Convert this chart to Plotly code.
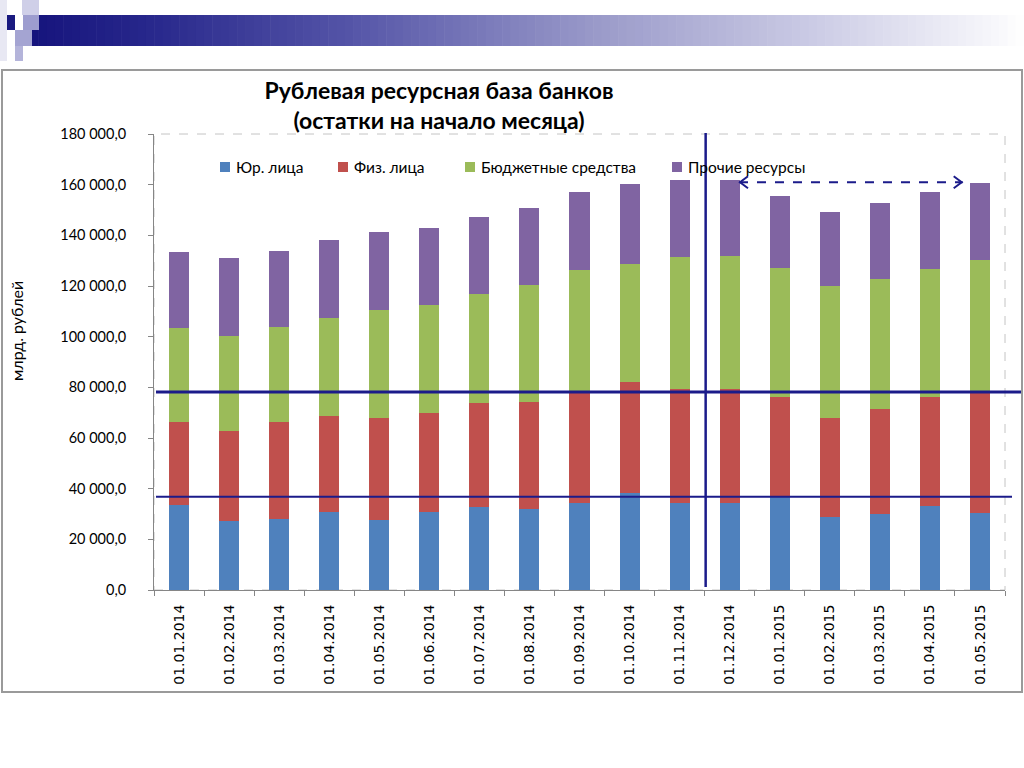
import plotly.graph_objects as go

# ---------------- data ----------------
dates = ["01.01.2014", "01.02.2014", "01.03.2014", "01.04.2014", "01.05.2014",
         "01.06.2014", "01.07.2014", "01.08.2014", "01.09.2014", "01.10.2014",
         "01.11.2014", "01.12.2014", "01.01.2015", "01.02.2015", "01.03.2015",
         "01.04.2015", "01.05.2015"]

legal_entities = [33500, 27200, 28000, 30700, 27800, 30700, 32800, 32000, 34300,
                  38300, 34300, 34300, 36800, 28700, 30100, 33300, 30500]
individuals = [32700, 35700, 38200, 37900, 40200, 39200, 41000, 42200, 44300,
               43800, 44900, 44900, 39300, 39300, 41200, 42800, 48200]
budget_funds = [37200, 37500, 37500, 38800, 42500, 42600, 43100, 46200, 47700,
                46600, 52300, 52700, 51000, 52100, 51600, 50600, 51700]
other_resources = [29900, 30700, 30100, 30800, 30800, 30400, 30400, 30400, 30800,
                   31600, 30400, 30000, 28600, 29000, 30000, 30400, 30400]

series_names = ["Юр. лица", "Физ. лица", "Бюджетные средства", "Прочие ресурсы"]
series_colors = ["#4F81BD", "#C0504D", "#9BBB59", "#8064A2"]

y_tick_vals = [0, 20000, 40000, 60000, 80000, 100000, 120000, 140000, 160000, 180000]
y_tick_text = ["0,0", "20 000,0", "40 000,0", "60 000,0", "80 000,0", "100 000,0",
               "120 000,0", "140 000,0", "160 000,0", "180 000,0"]

# ---------------- layout geometry ----------------
FW, FH = 1024, 768
L, R, T, B = 154, 1005, 134, 590
PW, PH = R - L, B - T


def px(x):
    return (x - L) / PW


def py(y):
    return (B - y) / PH


fig = go.Figure()
for name, vals, col in zip(series_names,
                           [legal_entities, individuals, budget_funds, other_resources],
                           series_colors):
    fig.add_trace(go.Bar(x=dates, y=vals, name=name, marker_color=col,
                         marker_line_width=0, showlegend=False))

shapes = []
annotations = []

# outer frame
shapes.append(dict(type="rect", xref="paper", yref="paper",
                   x0=px(2), x1=px(1022), y0=py(692), y1=py(70),
                   line=dict(color="#9a9a9a", width=2), layer="below"))
# dashed plot area border
shapes.append(dict(type="rect", xref="paper", yref="paper",
                   x0=0, x1=1, y0=0, y1=1,
                   line=dict(color="#c4c4c4", width=1, dash="dash"), layer="below"))

# top gradient band
stops = [(30, (22, 20, 125)), (150, (40, 40, 140)), (350, (85, 85, 168)),
         (600, (155, 155, 202)), (850, (212, 212, 234)), (1024, (255, 255, 255))]
N = 120
x_start, x_end = 30, 1024
for i in range(N):
    xa = x_start + (x_end - x_start) * i / N
    xb = x_start + (x_end - x_start) * (i + 1) / N + 0.6
    xm = (xa + xb) / 2
    c = stops[-1][1]
    for j in range(len(stops) - 1):
        if stops[j][0] <= xm <= stops[j + 1][0]:
            t = (xm - stops[j][0]) / (stops[j + 1][0] - stops[j][0])
            c = tuple(int(stops[j][1][k] + (stops[j + 1][1][k] - stops[j][1][k]) * t) for k in range(3))
            break
    shapes.append(dict(type="rect", xref="paper", yref="paper",
                       x0=px(xa), x1=px(xb), y0=py(46), y1=py(15),
                       fillcolor="rgb(%d,%d,%d)" % c, line=dict(width=0), layer="below"))

# decorative squares
squares = [
    (0, 7, 0, 61, "#e8e8f3"),
    (22, 39, 0, 15, "#cfcfe8"),
    (7, 15, 15, 30, "#1a1a80"),
    (23, 39, 15, 30, "#9d9dcf"),
    (15, 32, 30, 46, "#a4a4d2"),
    (15, 23, 46, 61, "#b4b4da"),
]
for xa, xb, ya, yb, col in squares:
    shapes.append(dict(type="rect", xref="paper", yref="paper",
                       x0=px(xa), x1=px(xb), y0=py(yb), y1=py(ya),
                       fillcolor=col, line=dict(width=0), layer="below"))

# legend (manual placement to match reference spacing)
legend_x = [220, 338, 465, 672]
legend_y = 167
for name, col, lx in zip(series_names, series_colors, legend_x):
    shapes.append(dict(type="rect", xref="paper", yref="paper",
                       x0=px(lx), x1=px(lx + 10), y0=py(legend_y + 5), y1=py(legend_y - 5),
                       fillcolor=col, line=dict(width=0)))
    annotations.append(dict(text=name, xref="paper", yref="paper",
                            x=px(lx + 14), y=py(legend_y), xanchor="left", yanchor="middle",
                            showarrow=False,
                            font=dict(family="Lato", size=15.5, color="#000000")))

# y-axis title
annotations.append(dict(text="млрд. рублей", xref="paper", yref="paper",
                        x=px(16), y=py(331), xanchor="center", yanchor="middle",
                        textangle=-90, showarrow=False,
                        font=dict(family="Lato", size=16, color="#000000")))

NAVY = "#1b1b8a"
# horizontal reference lines
shapes.append(dict(type="line", xref="paper", yref="y",
                   x0=px(156), x1=px(1021), y0=78150, y1=78150,
                   line=dict(color=NAVY, width=3)))
shapes.append(dict(type="line", xref="paper", yref="y",
                   x0=px(156), x1=px(1012), y0=36830, y1=36830,
                   line=dict(color=NAVY, width=2)))
# vertical line
shapes.append(dict(type="line", xref="x", yref="paper",
                   x0=10.52, x1=10.52, y0=py(587), y1=py(133),
                   line=dict(color=NAVY, width=2.5)))
# dashed double arrow
ax0, ax1, ay = 11.186, 15.655, 160930
shapes.append(dict(type="line", xref="x", yref="y",
                   x0=ax0, x1=ax1, y0=ay, y1=ay,
                   line=dict(color=NAVY, width=2, dash="dash")))
shapes.append(dict(type="path", xref="x", yref="y", xsizemode="pixel", ysizemode="pixel",
                   xanchor=ax0, yanchor=ay, path="M 9,6 L 1,0 L 9,-6",
                   line=dict(color=NAVY, width=2)))
shapes.append(dict(type="path", xref="x", yref="y", xsizemode="pixel", ysizemode="pixel",
                   xanchor=ax1, yanchor=ay, path="M -9,6 L -1,0 L -9,-6",
                   line=dict(color=NAVY, width=2)))

fig.update_layout(
    width=FW, height=FH,
    margin=dict(l=L, r=FW - R, t=T, b=FH - B, pad=0),
    barmode="stack", bargap=0.6,
    plot_bgcolor="white", paper_bgcolor="white",
    font=dict(family="Lato", color="#000000"),
    title=dict(text="<b>Рублевая ресурсная база банков<br>(остатки на начало месяца)</b>",
               x=439 / FW, xanchor="center", y=1 - 99 / FH, yanchor="middle",
               font=dict(family="Lato", size=23, color="#000000")),
    showlegend=False,
    shapes=shapes,
    annotations=annotations,
    xaxis=dict(type="category", showline=True, linecolor="#868686", linewidth=1,
               ticks="outside", ticklen=5, tickcolor="#868686", tickson="boundaries",
               tickangle=-90, tickfont=dict(family="DejaVu Sans", size=14, color="#000000"),
               ticklabelstandoff=8,
               showgrid=False, zeroline=False, fixedrange=True),
    yaxis=dict(range=[0, 180000], tickvals=y_tick_vals, ticktext=y_tick_text,
               showline=True, linecolor="#868686", linewidth=1,
               ticks="outside", ticklen=5, tickcolor="#868686",
               tickfont=dict(family="Lato", size=14.5, color="#000000"),
               ticklabelstandoff=19,
               showgrid=False, zeroline=False),
)

fig.write_html("out.html", post_script="document.body.style.margin='0';",
               config={"displayModeBar": False})
